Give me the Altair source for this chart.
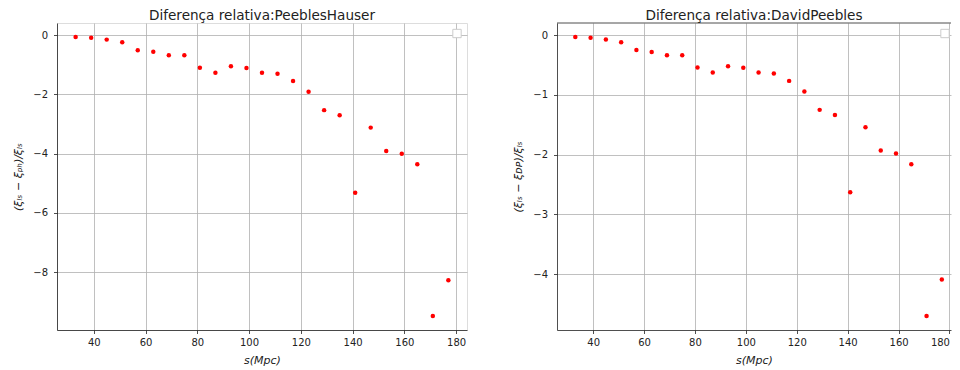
import altair as alt
import pandas as pd

# ---- data ----
s_mpc = [33, 39, 45, 51, 57, 63, 69, 75, 81, 87, 93, 99, 105, 111, 117,
         123, 129, 135, 141, 147, 153, 159, 165, 171, 177]
diff_ph = [-0.06, -0.09, -0.15, -0.24, -0.51, -0.56, -0.68, -0.68, -1.10, -1.27,
           -1.05, -1.11, -1.27, -1.30, -1.55, -1.91, -2.53, -2.70, -5.32, -3.12,
           -3.91, -4.00, -4.36, -9.48, -8.27]
diff_dp = [-0.03, -0.045, -0.073, -0.117, -0.25, -0.28, -0.335, -0.335, -0.54, -0.625,
           -0.52, -0.547, -0.625, -0.64, -0.765, -0.944, -1.25, -1.335, -2.63, -1.54,
           -1.93, -1.98, -2.16, -4.70, -4.09]
x_ticks = [40, 60, 80, 100, 120, 140, 160, 180]
y_ticks_ph = [0, -2, -4, -6, -8]
y_ticks_dp = [0, -1, -2, -3, -4]
titles = ["Diferença relativa:PeeblesHauser", "Diferença relativa:DavidPeebles"]
y_titles = ["(ξₗₛ − ξₚₕ)/ξₗₛ", "(ξₗₛ − ξᴅᴘ)/ξₗₛ"]

FONT = "DejaVu Sans"
TXT = "#222222"
H = 307


def domain_with_margin(vals, m=0.05):
    lo, hi = min(vals), max(vals)
    r = hi - lo
    return [lo - m * r, hi + m * r]


def panel(vals, title, ytitle, yticks, xmax, w, open_right):
    df = pd.DataFrame({"s": s_mpc, "v": vals})
    xdom = [25.8, xmax]
    ydom = domain_with_margin(vals)
    axis_common = dict(
        labelFont=FONT, labelFontSize=10, labelColor=TXT,
        titleFont=FONT, titleFontSize=11, titleColor=TXT, titleFontWeight="normal",
        titleFontStyle="italic",
        grid=True, gridColor="#b0b0b0", gridWidth=0.8,
        tickColor="#222222", tickSize=3.5, tickWidth=0.8,
        domainColor="#222222", domainWidth=0.8,
    )
    x_extra = {}
    if open_right:
        x_extra["labelAlign"] = {"condition": {"test": "datum.value == 180", "value": "right"},
                                 "value": "center"}
    pts = alt.Chart(df).mark_circle(size=20, color="red", opacity=1).encode(
        x=alt.X("s:Q", scale=alt.Scale(domain=xdom, nice=False, zero=False),
                axis=alt.Axis(values=x_ticks, format="d", title="s(Mpc)",
                              labelPadding=4, titlePadding=7, **x_extra, **axis_common)),
        y=alt.Y("v:Q", scale=alt.Scale(domain=ydom, nice=False, zero=False),
                axis=alt.Axis(values=yticks, format="d", title=ytitle,
                              labelPadding=6, titlePadding=9, **axis_common)),
    )
    one = alt.Chart(pd.DataFrame({"a": [0]}))
    legend_box = one.mark_point(shape="square", size=70, filled=True, fill="white",
                                stroke="#cccccc", strokeWidth=1, opacity=1).encode(
        x=alt.value(w - 10 if not open_right else w - 6), y=alt.value(10.5))
    layers = [pts, legend_box]
    if open_right:
        top = one.mark_rule(color="#222222", strokeWidth=0.8).encode(
            x=alt.value(0), x2=alt.value(w), y=alt.value(0))
        layers.append(top)
    ch = alt.layer(*layers).properties(
        width=w, height=H,
        title=alt.TitleParams(title, font=FONT, fontSize=13.6, fontWeight="normal",
                              color=TXT, offset=0),
    )
    if open_right:
        ch = ch.properties(view=alt.ViewBackground(stroke="transparent"))
    return ch


left = panel(diff_ph, titles[0], y_titles[0], y_ticks_ph, 184.2, 410, False)
right = panel(diff_dp, titles[1], y_titles[1], y_ticks_dp, 180.6, 394, True)

chart = alt.hconcat(left, right, spacing=44).properties(
    padding={"left": 4, "top": 0, "right": 0, "bottom": 0}
).configure_view(stroke="#222222", strokeWidth=0.8).configure(background="white")

chart.save("out.html", embed_options={"renderer": "svg", "actions": False})
